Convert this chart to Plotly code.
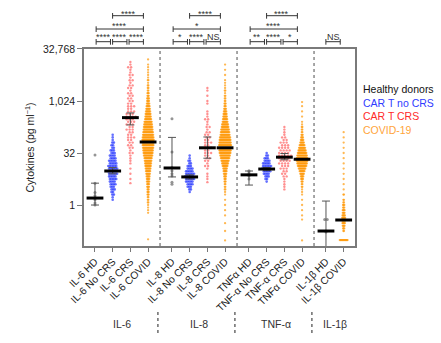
import plotly.graph_objects as go

# ---------------- data (values are log2 of pg/ml) ----------------
CATEGORIES = ["IL-6 HD", "IL-6 No CRS", "IL-6 CRS", "IL-6 COVID",
              "IL-8 HD", "IL-8 No CRS", "IL-8 CRS", "IL-8 COVID",
              "TNFα HD", "TNF-α No CRS", "TNF-α CRS", "TNFα COVID",
              "IL-1β HD", "IL-1β COVID"]
COHORT = ["HD", "NOCRS", "CRS", "COVID"] * 3 + ["HD", "COVID"]
GROUP_LABELS = ["IL-6", "IL-8", "TNF-α", "IL-1β"]
LEGEND_LABELS = ["Healthy donors", "CAR T no CRS", "CAR T CRS", "COVID-19"]

# healthy donors: individual values (log2)
IL6_HD = [4.8, 2.1, 1.2, 0.9, 0.7, 0.5, 0.2, 0.0]
IL8_HD = [8.3, 5.1, 3.6, 3.3, 3.0, 2.8, 2.2, 2.0]
TNF_HD = [3.3, 3.2, 3.0, 2.9, 2.8, 2.5]
IL1B_HD = [-1.4, -1.4, -2.6, -4.6]

# other cohorts: {log2 level: number of points}
IL6_NOCRS = {6.75: 1, 6.5: 1, 6.25: 1, 6.0: 2, 5.75: 2, 5.5: 2, 5.25: 3, 5.0: 3, 4.75: 4, 4.5: 4,
             4.25: 5, 4.0: 5, 3.75: 6, 3.5: 6, 3.25: 6, 3.0: 6, 2.75: 5, 2.5: 5, 2.25: 4, 2.0: 4,
             1.75: 3, 1.5: 3, 1.25: 2, 1.0: 2, 0.75: 1, 0.5: 1}
IL6_CRS = {13.75: 1, 13.5: 1, 13.25: 2, 13.0: 1, 12.75: 1, 12.5: 2, 12.25: 1, 12.0: 2, 11.75: 1,
           11.5: 2, 11.25: 2, 11.0: 1, 10.75: 2, 10.5: 2, 10.25: 2, 10.0: 2, 9.75: 2, 9.5: 3,
           9.25: 2, 9.0: 3, 8.75: 3, 8.5: 4, 8.25: 3, 8.0: 3, 7.75: 3, 7.5: 2, 7.25: 3, 7.0: 2,
           6.75: 2, 6.5: 3, 6.25: 2, 6.0: 2, 5.75: 2, 5.5: 2, 5.25: 1, 5.0: 2, 4.75: 1, 4.5: 1,
           4.25: 1, 4.0: 1, 3.5: 1, 3.0: 1, 2.5: 1, 2.1: 1}
IL6_COVID = {14.0: 1, 13.5: 1, 13.25: 1, 13.0: 1, 12.75: 1, 12.5: 1, 12.25: 1, 12.0: 2, 11.75: 1,
             11.5: 2, 11.25: 2, 11.0: 2, 10.75: 3, 10.5: 3, 10.25: 4, 10.0: 4, 9.75: 5, 9.5: 6,
             9.25: 7, 9.0: 8, 8.75: 9, 8.5: 10, 8.25: 11, 8.0: 13, 7.75: 14, 7.5: 15, 7.25: 16,
             7.0: 17, 6.75: 18, 6.5: 19, 6.25: 20, 6.0: 20, 5.75: 19, 5.5: 18, 5.25: 17, 5.0: 16,
             4.75: 15, 4.5: 13, 4.25: 12, 4.0: 11, 3.75: 10, 3.5: 9, 3.25: 8, 3.0: 7, 2.75: 6,
             2.5: 5, 2.25: 5, 2.0: 4, 1.75: 4, 1.5: 3, 1.25: 3, 1.0: 3, 0.75: 2, 0.5: 2, 0.25: 2,
             0.0: 1, -0.25: 1, -0.5: 1, -0.75: 1, -3.3: 1}
IL8_NOCRS = {4.75: 1, 4.5: 1, 4.25: 2, 4.0: 2, 3.75: 3, 3.5: 4, 3.25: 5, 3.0: 6, 2.75: 6, 2.5: 6,
             2.25: 5, 2.0: 4, 1.75: 3, 1.5: 2, 1.25: 1}
IL8_CRS = {11.25: 1, 11.0: 1, 10.5: 1, 10.0: 1, 9.75: 1, 9.0: 1, 8.75: 1, 8.5: 1, 8.25: 2, 8.0: 1,
           7.75: 1, 7.5: 2, 7.25: 1, 7.0: 2, 6.75: 2, 6.5: 2, 6.25: 2, 6.0: 3, 5.75: 2, 5.5: 3,
           5.25: 2, 5.0: 3, 4.75: 2, 4.5: 2, 4.25: 2, 4.0: 1, 3.75: 2, 3.5: 1, 3.0: 1, 2.75: 1,
           2.5: 1, 2.2: 1}
IL8_COVID = {13.5: 1, 13.0: 1, 12.5: 1, 12.0: 1, 11.75: 1, 11.5: 1, 11.25: 1, 11.0: 2, 10.75: 1,
             10.5: 2, 10.25: 2, 10.0: 2, 9.75: 3, 9.5: 3, 9.25: 4, 9.0: 5, 8.75: 6, 8.5: 7,
             8.25: 8, 8.0: 9, 7.75: 11, 7.5: 12, 7.25: 14, 7.0: 15, 6.75: 16, 6.5: 18, 6.25: 19,
             6.0: 20, 5.75: 21, 5.5: 21, 5.25: 20, 5.0: 19, 4.75: 17, 4.5: 15, 4.25: 13, 4.0: 11,
             3.75: 9, 3.5: 7, 3.25: 6, 3.0: 5, 2.75: 4, 2.5: 3, 2.25: 3, 2.0: 2, 1.75: 2, 1.5: 2,
             1.25: 1, 1.0: 1, 0.5: 1, 0.0: 1, -0.5: 1, -1.0: 1, -1.75: 1, -2.5: 1, -3.4: 1}
TNF_NOCRS = {5.0: 1, 4.75: 2, 4.5: 3, 4.25: 4, 4.0: 5, 3.75: 6, 3.5: 6, 3.25: 5, 3.0: 4, 2.75: 3,
             2.5: 2, 2.25: 1}
TNF_CRS = {7.5: 1, 7.25: 1, 7.0: 1, 6.75: 1, 6.5: 2, 6.25: 2, 6.0: 3, 5.75: 3, 5.5: 4, 5.25: 4,
           5.0: 4, 4.75: 5, 4.5: 4, 4.25: 4, 4.0: 4, 3.75: 3, 3.5: 3, 3.25: 2, 3.0: 2, 2.75: 2,
           2.5: 1, 2.25: 1, 2.0: 1, 1.75: 1, 1.5: 1}
TNF_COVID = {9.9: 1, 9.5: 1, 9.0: 1, 8.5: 1, 8.0: 1, 7.75: 1, 7.5: 2, 7.25: 2, 7.0: 2, 6.75: 3,
             6.5: 4, 6.25: 5, 6.0: 7, 5.75: 9, 5.5: 11, 5.25: 13, 5.0: 15, 4.75: 17, 4.5: 19,
             4.25: 19, 4.0: 17, 3.75: 15, 3.5: 12, 3.25: 9, 3.0: 7, 2.75: 5, 2.5: 4, 2.25: 3,
             2.0: 2, 1.75: 2, 1.5: 1, 1.25: 1, 1.0: 1, 0.5: 1, 0.0: 1, -0.5: 1, -1.0: 1,
             -1.4: 1, -3.4: 1}
IL1B_COVID = {7.0: 1, 6.5: 1, 6.0: 1, 5.5: 1, 5.0: 1, 4.5: 1, 4.0: 1, 3.5: 1, 3.0: 1, 2.5: 1,
              2.0: 1, 1.5: 1, 1.0: 2, 0.5: 2, 0.25: 2, 0.0: 3, -0.25: 3, -0.5: 4, -0.75: 4,
              -1.0: 5, -1.25: 6, -1.5: 6, -1.75: 5, -2.0: 4, -2.25: 3, -2.5: 2, -3.37: 14}

GROUP_POINTS = [IL6_HD, IL6_NOCRS, IL6_CRS, IL6_COVID,
                IL8_HD, IL8_NOCRS, IL8_CRS, IL8_COVID,
                TNF_HD, TNF_NOCRS, TNF_CRS, TNF_COVID,
                IL1B_HD, IL1B_COVID]

# medians and error-bar ends (log2)
MEDIAN = [0.67, 3.27, 8.4, 6.06, 3.56, 2.7, 5.5, 5.5, 2.9, 3.46, 4.6, 4.4, -2.5, -1.44]
ERR_LO = [0.0, 3.0, 7.7, 6.06, 2.7, 2.5, 4.5, 5.5, 1.92, 3.3, 4.35, 4.4, -6.0, -1.44]
ERR_HI = [2.1, 3.6, 8.85, 6.06, 6.5, 2.9, 6.54, 5.5, 3.27, 3.6, 4.95, 4.4, 0.38, -1.44]

# significance brackets: (row, first category, last category, label)
BRACKETS = [(1, 0, 1, "****"), (1, 1, 2, "****"), (1, 2, 3, "****"), (2, 0, 3, "****"), (3, 1, 3, "****"),
            (1, 4, 5, "*"), (1, 5, 6, "****"), (1, 6, 7, "NS"), (2, 4, 7, "*"), (3, 5, 7, "****"),
            (1, 8, 9, "**"), (1, 9, 10, "****"), (1, 10, 11, "*"), (2, 8, 11, "****"), (3, 9, 11, "****"),
            (1, 12, 13, "NS")]

# ---------------- layout helpers ----------------
X_POS = [1, 2, 3, 4, 5.35, 6.35, 7.35, 8.35, 9.7, 10.7, 11.7, 12.7, 14.05, 15.05]
GROUP_MEMBERS = [[0, 1, 2, 3], [4, 5, 6, 7], [8, 9, 10, 11], [12, 13]]
PX_PER_UNIT = 17.7
PLOT_TOP, PLOT_BOTTOM = 49, 246

STYLE = {
    "HD": dict(color="#8a8a8a", size=3.0, opacity=0.9, spacing=2.6, stagger=0.0),
    "NOCRS": dict(color="#2233ff", size=2.6, opacity=0.7, spacing=1.6, stagger=0.5),
    "CRS": dict(color="#ff3535", size=2.4, opacity=0.55, spacing=3.0, stagger=0.5),
    "COVID": dict(color="#ff9a0a", size=2.3, opacity=0.7, spacing=0.6, stagger=0.0),
}
LEGEND_COLORS = ["#111111", "#2f3bff", "#ff2a2a", "#ffa43a"]


def paper_y(py):
    return (PLOT_BOTTOM - py) / (PLOT_BOTTOM - PLOT_TOP)


fig = go.Figure()

# swarm points
for i, pts in enumerate(GROUP_POINTS):
    st = STYLE[COHORT[i]]
    if isinstance(pts, dict):
        counts = pts
    else:
        counts = {}
        for v in pts:
            counts[v] = counts.get(v, 0) + 1
    xs, ys = [], []
    for row, (lvl, n) in enumerate(counts.items()):
        shift = st["stagger"] * (1 if row % 2 else -1) * st["spacing"] / 2
        for k in range(n):
            off = ((k - (n - 1) / 2) * st["spacing"] + (shift if n > 1 else 0)) / PX_PER_UNIT
            xs.append(X_POS[i] + off)
            ys.append(2 ** lvl)
    fig.add_trace(go.Scatter(x=xs, y=ys, mode="markers", hoverinfo="skip",
                             marker=dict(size=st["size"], color=st["color"], opacity=st["opacity"],
                                         line=dict(width=0))))

# error bars
med = [2 ** m for m in MEDIAN]
fig.add_trace(go.Scatter(
    x=X_POS, y=med, mode="markers", marker=dict(size=1, opacity=0), hoverinfo="skip",
    error_y=dict(type="data", symmetric=False,
                 array=[2 ** h - 2 ** m for h, m in zip(ERR_HI, MEDIAN)],
                 arrayminus=[2 ** m - 2 ** l for l, m in zip(ERR_LO, MEDIAN)],
                 color="#555555", thickness=1, width=4)))

# medians
fig.add_trace(go.Scatter(x=X_POS, y=med, mode="markers", hoverinfo="skip",
                         marker=dict(symbol="line-ew", size=12,
                                     line=dict(width=3, color="black"))))

shapes = []
annotations = []

# dotted separators inside plot
for a, b in zip(GROUP_MEMBERS[:-1], GROUP_MEMBERS[1:]):
    xm = (X_POS[a[-1]] + X_POS[b[0]]) / 2
    shapes.append(dict(type="line", xref="x", yref="paper", x0=xm, x1=xm, y0=0, y1=1,
                       line=dict(color="#777777", width=1.3, dash="dot")))
    # dotted separators below the axis
    xs = xm - 0.12
    shapes.append(dict(type="line", xref="x", yref="paper", x0=xs, x1=xs,
                       y0=paper_y(312), y1=paper_y(336),
                       line=dict(color="#555555", width=1.3, dash="dot")))

# group labels
for name, mem in zip(GROUP_LABELS, GROUP_MEMBERS):
    xc = (X_POS[mem[0]] + X_POS[mem[-1]]) / 2
    annotations.append(dict(x=xc, y=paper_y(324), xref="x", yref="paper", text=name,
                            showarrow=False, yanchor="middle", xanchor="center",
                            font=dict(size=10.5, color="#333333")))

# brackets
ROW_Y = {1: 41.7, 2: 29.0, 3: 15.7}
TEXT_Y = {1: 36.6, 2: 26.0, 3: 14.4}


def node(idx):
    for mem in GROUP_MEMBERS:
        if idx in mem:
            c = (X_POS[mem[0]] + X_POS[mem[-1]]) / 2
            return c + 0.93 * (X_POS[idx] - c) - 0.1
    return X_POS[idx]


for row, a, b, lab in BRACKETS:
    x0 = node(a) + 0.06
    x1 = node(b) - 0.06
    yl = ROW_Y[row]
    lc = dict(color="#333333", width=1)
    shapes.append(dict(type="line", xref="x", yref="paper", x0=x0, x1=x1,
                       y0=paper_y(yl), y1=paper_y(yl), line=lc))
    for xe in (x0, x1):
        shapes.append(dict(type="line", xref="x", yref="paper", x0=xe, x1=xe,
                           y0=paper_y(yl - 2.7), y1=paper_y(yl + 3.0), line=lc))
    ty = TEXT_Y[row] if lab != "NS" else 36.6
    annotations.append(dict(x=(x0 + x1) / 2, y=paper_y(ty), xref="x", yref="paper",
                            text=lab, showarrow=False, yanchor="middle", xanchor="center",
                            font=dict(size=9, color="#333333")))

# legend as coloured text
for k, (lab, col) in enumerate(zip(LEGEND_LABELS, LEGEND_COLORS)):
    annotations.append(dict(x=(361 - 84) / 271, y=paper_y(89 + k * 13.7), xref="paper", yref="paper",
                            text=lab, showarrow=False, xanchor="left", yanchor="middle",
                            font=dict(size=10.5, color=col)))

fig.update_layout(
    width=441, height=343,
    margin=dict(l=84, r=86, t=49, b=97),
    plot_bgcolor="white", paper_bgcolor="white",
    showlegend=False,
    font=dict(family="Liberation Sans, Arial, sans-serif", color="#222222"),
    shapes=shapes, annotations=annotations,
    xaxis=dict(range=[0.379, 15.69], tickmode="array", tickvals=X_POS, ticktext=CATEGORIES,
               tickangle=-45, ticks="outside", ticklen=4, tickcolor="#777777",
               showline=True, linecolor="#7a7a7a", linewidth=1.5, mirror=True,
               showgrid=False, zeroline=False, tickfont=dict(size=10.3, color="#222222")),
    yaxis=dict(type="log", range=[-1.186, 4.515], tickmode="array",
               tickvals=[1, 32, 1024, 32768], ticktext=["1", "32", "1,024", "32,768"],
               ticks="outside", ticklen=5, tickcolor="#777777",
               showline=True, linecolor="#7a7a7a", linewidth=1.5, mirror=True,
               showgrid=False, zeroline=False, tickfont=dict(size=10.5, color="#222222"),
               title=dict(text="Cytokines (pg ml<sup>−1</sup>)", font=dict(size=10.5, color="#222222"),
                          standoff=6)),
)

fig.write_html("out.html")
